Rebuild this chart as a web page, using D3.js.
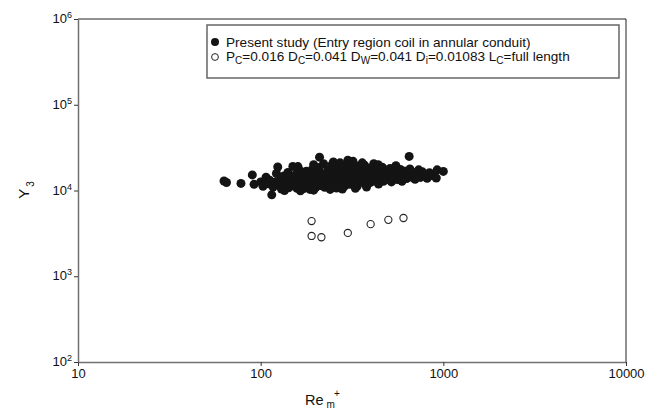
<!DOCTYPE html>
<html><head><meta charset="utf-8">
<script src="https://cdn.jsdelivr.net/npm/d3@7"></script>
<style>body{margin:0;background:#fff}svg{display:block;font-family:"Liberation Sans",Arial,sans-serif}</style>
</head><body>
<svg id="c" width="657" height="409"></svg>
<script>
const xTicks = [10, 100, 1000, 10000];
const yTicks = [100, 1000, 10000, 100000, 1000000];
const yTickExp = ["2", "3", "4", "5", "6"];
const presentStudy = [[63,12900],[65,12400],[78,12100],[90,15200],[92,11800],[100,12600],[103,11200],[107,14300],[110,12000],[112,13200],[115,8900],[117,11000],[120,12500],[122,15800],[124,18800],[126,11500],[128,13800],[130,10400],[132,12200],[134,14800],[137,11300],[139,13000],[141,16200],[143,10800],[145,12400],[148,14200],[150,19100],[152,11700],[154,13400],[156,15500],[158,10600],[160,12600],[162,14000],[164,17000],[166,11400],[168,13100],[170,15200],[172,10500],[174,12300],[176,14500],[178,16800],[180,11200],[182,13600],[184,15800],[186,10300],[188,12800],[190,14700],[192,17600],[194,11800],[196,13200],[198,16100],[200,10800],[203,12300],[206,14200],[209,18500],[210,24500],[212,11400],[215,13500],[218,15600],[221,20500],[224,10900],[227,12700],[230,14800],[233,17300],[236,11700],[239,13900],[242,16200],[245,19800],[248,11100],[251,12900],[254,15100],[257,17800],[260,10700],[263,13300],[266,14600],[269,16700],[272,21000],[275,11900],[278,13800],[281,15900],[284,18500],[287,11200],[290,12800],[294,14900],[298,17100],[302,20200],[306,11800],[310,13600],[314,15500],[318,17900],[322,12200],[326,14100],[330,16300],[334,19300],[338,11300],[342,13100],[346,15200],[350,17600],[355,12600],[360,14600],[365,16800],[370,19700],[375,11900],[380,13800],[386,15700],[392,18200],[398,12400],[404,14300],[410,16500],[416,20500],[422,12900],[428,15000],[435,17200],[442,11900],[449,13600],[456,15900],[463,18700],[470,12800],[478,14700],[486,16900],[494,13500],[502,15600],[511,18100],[520,12600],[530,14600],[540,16700],[550,19500],[560,13400],[571,15500],[582,17600],[594,12800],[606,14900],[618,16800],[630,13800],[643,15700],[650,25000],[656,17800],[670,14300],[684,16200],[700,13500],[716,15600],[733,17400],[750,14200],[768,16500],[790,15300],[815,13900],[840,16100],[870,14900],[915,14000],[925,17400],[1000,16700],[135,10000],[165,9900],[195,10100],[240,10300],[280,10400],[330,10600],[380,11000],[250,21500],[320,22000],[360,21000],[440,20000],[160,19000],[195,20000],[300,22500]];
const reference = [[190,4400],[190,2950],[215,2850],[300,3200],[400,4050],[500,4550],[605,4780]];

const svg = d3.select("#c");
const x = d3.scaleLog().domain([10, 10000]).range([78, 626]);
const y = d3.scaleLog().domain([100, 1000000]).range([362, 19]);

svg.append("line").attr("x1", 78).attr("x2", 626).attr("y1", 19).attr("y2", 19).attr("stroke", "#222").attr("stroke-width", 1);
svg.append("line").attr("x1", 626).attr("x2", 626).attr("y1", 19).attr("y2", 362).attr("stroke", "#222").attr("stroke-width", 1);

const gx = svg.append("g").attr("transform", "translate(0,362)")
  .call(d3.axisBottom(x).tickValues(xTicks).tickSize(4).tickSizeOuter(0).tickPadding(3).tickFormat(d3.format("d")));
gx.select(".domain").attr("stroke", "#707070").attr("stroke-width", 1.5);
gx.selectAll(".tick line").attr("stroke", "#333");
gx.selectAll(".tick text").attr("font-size", 13).attr("fill", "#111").attr("font-family", "Liberation Sans, Arial, sans-serif");

const gy = svg.append("g").attr("transform", "translate(78,0)")
  .call(d3.axisLeft(y).tickValues(yTicks).tickSize(4).tickSizeOuter(0).tickFormat(() => ""));
gy.select(".domain").attr("stroke", "#707070").attr("stroke-width", 1.5);
gy.selectAll(".tick line").attr("stroke", "#333");
gy.selectAll(".tick text").remove();
yTicks.forEach((v, i) => {
  const t = svg.append("text").attr("x", 72).attr("y", y(v) + 4).attr("text-anchor", "end")
    .attr("font-size", 13).attr("fill", "#111");
  t.append("tspan").text("10");
  t.append("tspan").attr("font-size", 9).attr("dy", -5).text(yTickExp[i]);
});

const yl = svg.append("text").attr("transform", "translate(29,190) rotate(-90)").attr("text-anchor", "middle")
  .attr("font-size", 15).attr("fill", "#111");
yl.append("tspan").text("Y");
yl.append("tspan").attr("font-size", 10).attr("dy", 5).attr("dx", 2).text("3");

const xl = svg.append("text").attr("x", 305).attr("y", 405).attr("font-size", 14.5).attr("fill", "#111");
xl.append("tspan").text("Re");
xl.append("tspan").attr("font-size", 10).attr("dy", 3).attr("dx", 3).text("m");
xl.append("tspan").attr("font-size", 10).attr("dy", -11).attr("dx", -1).text("+");

svg.append("g").selectAll("circle").data(presentStudy).join("circle")
  .attr("cx", d => x(d[0])).attr("cy", d => y(d[1])).attr("r", 4.5).attr("fill", "#141414");
svg.append("g").selectAll("circle").data(reference).join("circle")
  .attr("cx", d => x(d[0])).attr("cy", d => y(d[1])).attr("r", 3.6).attr("fill", "#fff").attr("stroke", "#222").attr("stroke-width", 1.1);

svg.append("rect").attr("x", 207).attr("y", 25).attr("width", 412).attr("height", 53)
  .attr("fill", "#fff").attr("stroke", "#666").attr("stroke-width", 1.5);
svg.append("circle").attr("cx", 215).attr("cy", 42).attr("r", 4).attr("fill", "#141414");
svg.append("circle").attr("cx", 215).attr("cy", 57).attr("r", 3.4).attr("fill", "#fff").attr("stroke", "#222").attr("stroke-width", 1);
svg.append("text").attr("x", 226).attr("y", 47).attr("font-size", 13.6).attr("fill", "#111")
  .text("Present study (Entry region coil in annular conduit)");
const l2 = svg.append("text").attr("x", 226).attr("y", 61).attr("font-size", 13.6).attr("fill", "#111");
const parts = [["P","C"],["=0.016 D","C"],["=0.041 D","W"],["=0.041 D","i"],["=0.01083 L","C"],["=full length",null]];
let pending = 0;
parts.forEach(([main, sub]) => {
  l2.append("tspan").attr("dy", pending).text(main);
  pending = 0;
  if (sub) {
    l2.append("tspan").attr("font-size", 10).attr("dy", 3).text(sub);
    pending = -3;
  }
});
</script>
</body></html>
